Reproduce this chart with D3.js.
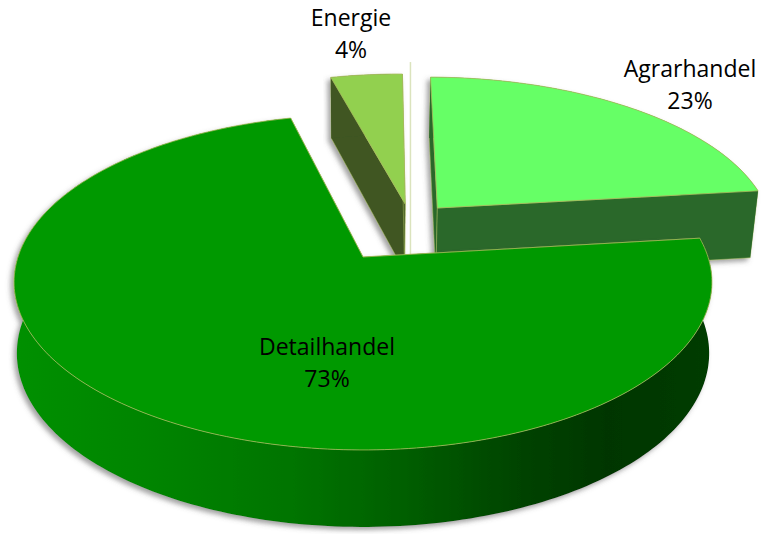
<!DOCTYPE html>
<html><head><meta charset="utf-8">
<script src="https://cdn.jsdelivr.net/npm/d3@7/dist/d3.min.js"></script>
<style>html,body{margin:0;padding:0;background:#fff}svg{display:block}</style>
</head><body><svg id="c" width="761" height="534"></svg>
<script>
const categories = ["Agrarhandel","Detailhandel","Energie"];
const values = [23,73,4];
const topColors = ["#66ff66","#009900","#92d050"];
const wallColors = ["#2b682b","#009900","#3f5621"];
const offsetU = [-0.3128,0,-0.3397];
const offsetV = [0.2256,0,0.1286];
const shrinks = [0.02,0.008,0.015];
const labelX = [690,327,351];
const labelY = [77,355,26];
const drawOrder = [2,0,1];

const W=761,H=534, cx=363, cy=257, A=164, B=345, p=0.15;
const svg=d3.select("#c");
const defs=svg.append("defs");
const f=defs.append("filter").attr("id","sh").attr("x","-10%").attr("y","-10%").attr("width","120%").attr("height","125%");
f.append("feDropShadow").attr("dx",-3).attr("dy",3).attr("stdDeviation",2.5).attr("flood-color","#555").attr("flood-opacity",.55);
const g=defs.append("linearGradient").attr("id","wall").attr("gradientUnits","userSpaceOnUse").attr("x1",13).attr("x2",712).attr("y1",0).attr("y2",0);
[[0,"#009000"],[.2,"#008400"],[.4,"#007400"],[.55,"#006000"],[.72,"#004400"],[.85,"#003600"],[1,"#003c00"]]
 .forEach(s=>g.append("stop").attr("offset",s[0]).attr("stop-color",s[1]));

const start=0.5*Math.PI/180;
const pie=d3.pie().sort(null).value(d=>d).startAngle(start).endAngle(start+2*Math.PI);
const arcs=pie(values);

function project(u,v,z,s){
  const w=1-p*u;
  const x=cx+(B*v/w)*(1-s*z);
  const y=cy+A*u/w+z*(70+7*u);
  return [x,y];
}
function rim(i,a,z){
  return project(offsetU[i]-Math.cos(a),offsetV[i]+Math.sin(a),z,shrinks[i]);
}
const line=d3.line();
function arcPts(i,a0,a1,z){
  const n=Math.max(4,Math.ceil(Math.abs(a1-a0)/0.02));
  return d3.range(n+1).map(k=>rim(i,a0+(a1-a0)*k/n,z));
}
const edge="#a8bd5c";
drawOrder.forEach(i=>{
  const d=arcs[i], gr=svg.append("g").attr("filter","url(#sh)");
  const apexT=project(offsetU[i],offsetV[i],0,shrinks[i]), apexB=project(offsetU[i],offsetV[i],1,shrinks[i]);
  const wallFill=i===1?"url(#wall)":wallColors[i];
  [d.startAngle,d.endAngle].forEach(a=>{
    const poly=[apexT,rim(i,a,0),rim(i,a,1),apexB];
    gr.append("path").attr("d",line(poly)+"Z").attr("fill",wallFill==="url(#wall)"?"#004000":wallFill)
      .attr("stroke",edge).attr("stroke-width",.5);
  });
  const top=arcPts(i,d.startAngle,d.endAngle,0), bot=arcPts(i,d.startAngle,d.endAngle,1).reverse();
  gr.append("path").attr("d",line(top.concat(bot))+"Z").attr("fill",wallFill);
  gr.append("path").attr("d",line([apexT].concat(top))+"Z").attr("fill",topColors[i])
    .attr("stroke",edge).attr("stroke-width",.8).attr("stroke-linejoin","round");
  if(i===2){
    const a=rim(i,d.endAngle,0);
    svg.append("line").attr("x1",a[0]+8).attr("x2",a[0]+8).attr("y1",a[1]-12).attr("y2",apexB[1]-16)
      .attr("stroke","#dbe3bd").attr("stroke-width",1.5);
  }
});
const labels=svg.append("g").attr("font-family","'Open Sans',sans-serif").attr("font-size",23).attr("fill","#000").attr("text-anchor","middle");
categories.forEach((c,i)=>{
  labels.append("text").attr("x",labelX[i]).attr("y",labelY[i]).text(c);
  labels.append("text").attr("x",labelX[i]).attr("y",labelY[i]+32).text(values[i]+"%");
});
</script></body></html>
